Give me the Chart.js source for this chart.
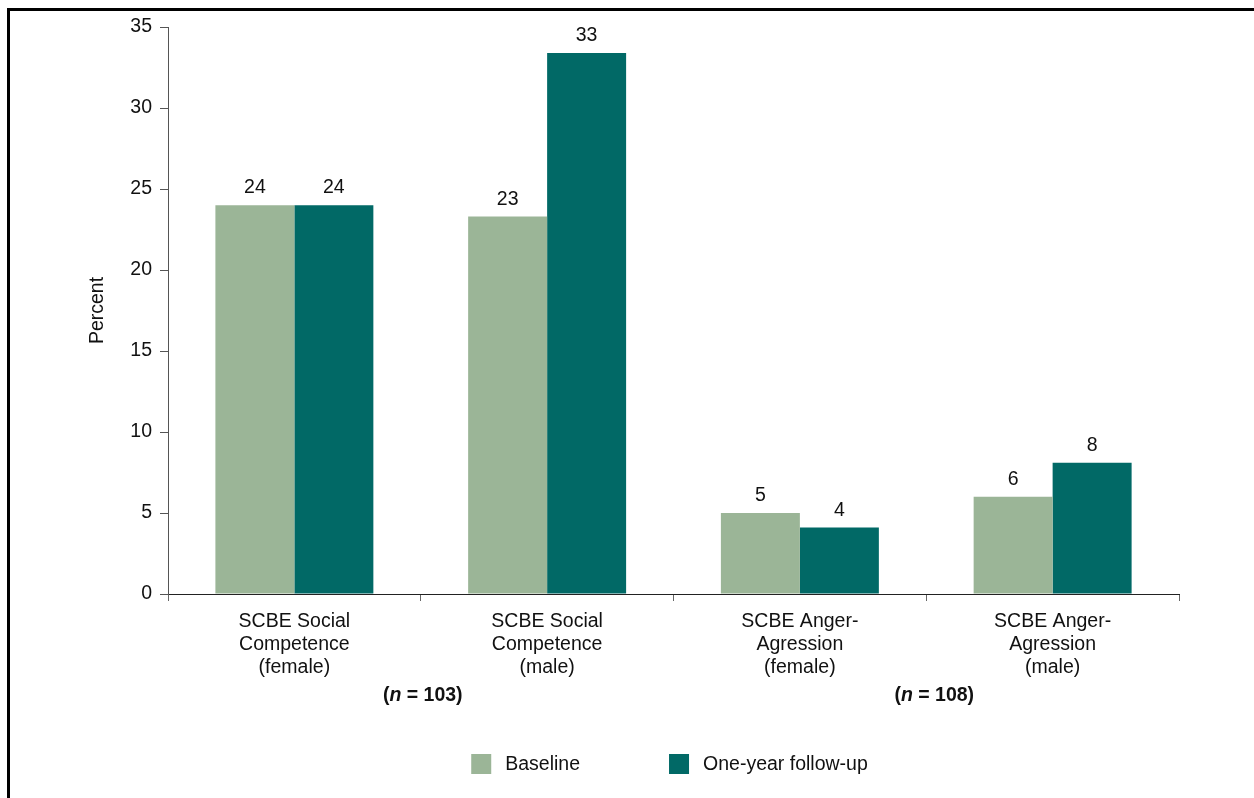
<!DOCTYPE html>
<html>
<head>
<meta charset="utf-8">
<script src="https://cdn.jsdelivr.net/npm/chart.js@4.4.1/dist/chart.umd.min.js"></script>
<style>
  html, body { margin: 0; padding: 0; background: #ffffff; }
  #wrap { width: 1254px; height: 798px; position: relative; }
</style>
</head>
<body>
<div id="wrap"><canvas id="chart"></canvas></div>
<script>
// Categories (multi-line axis labels)
const categories = [
  ['SCBE Social', 'Competence', '(female)'],
  ['SCBE Social', 'Competence', '(male)'],
  ['SCBE Anger-', 'Agression', '(female)'],
  ['SCBE Anger-', 'Agression', '(male)']
];
const seriesNames = ['Baseline', 'One-year follow-up'];
const baselineValues = [24.0, 23.3, 5.0, 6.0];
const followUpValues = [24.0, 33.4, 4.1, 8.1];
const yTickValues = [0, 5, 10, 15, 20, 25, 30, 35];
// Sample sizes, each covering a pair of categories
const sampleSizes = ['103', '108'];
const sampleGroups = [[0, 1], [2, 3]];
const axisTitle = 'Percent';

const FONT = '"Liberation Sans", Arial, Helvetica, sans-serif';
const FS = 19.5;
const colors = ['#9bb597', '#016966'];

// Outer frame (top and left rules)
const framePlugin = {
  id: 'frame',
  afterDraw(chart) {
    const ctx = chart.ctx;
    ctx.save();
    ctx.fillStyle = '#000';
    ctx.fillRect(7, 8, chart.width - 7, 3);
    ctx.fillRect(7, 8, 3, chart.height - 8);
    ctx.restore();
  }
};

// Rounded value above each bar
const valueLabelPlugin = {
  id: 'valueLabels',
  afterDatasetsDraw(chart) {
    const ctx = chart.ctx;
    ctx.save();
    ctx.font = `${FS}px ${FONT}`;
    ctx.fillStyle = '#111';
    ctx.textAlign = 'center';
    ctx.textBaseline = 'alphabetic';
    chart.data.datasets.forEach((ds, di) => {
      chart.getDatasetMeta(di).data.forEach((bar, i) => {
        ctx.fillText(String(Math.round(ds.data[i])), bar.x, bar.y - 12);
      });
    });
    ctx.restore();
  }
};

// "(n = ...)" notes under each pair of categories
const sampleSizePlugin = {
  id: 'sampleSizes',
  afterDraw(chart) {
    const ctx = chart.ctx;
    const x = chart.scales.x;
    const y = 701;
    ctx.save();
    ctx.fillStyle = '#111';
    ctx.textBaseline = 'alphabetic';
    ctx.textAlign = 'left';
    sampleSizes.forEach((n, gi) => {
      const [a, b] = sampleGroups[gi];
      const cx = (x.getPixelForValue(a) + x.getPixelForValue(b)) / 2 + (gi === 1 ? 8 : 2);
      const parts = [
        { t: '(', f: `bold ${FS}px ${FONT}` },
        { t: 'n', f: `italic bold ${FS}px ${FONT}` },
        { t: ' = ' + n + ')', f: `bold ${FS}px ${FONT}` }
      ];
      let w = 0;
      parts.forEach(p => { ctx.font = p.f; p.w = ctx.measureText(p.t).width; w += p.w; });
      let px = cx - w / 2;
      parts.forEach(p => { ctx.font = p.f; ctx.fillText(p.t, px, y); px += p.w; });
    });
    ctx.restore();
  }
};

// Legend row beneath the chart
const legendPlugin = {
  id: 'customLegend',
  afterDraw(chart) {
    const ctx = chart.ctx;
    const area = chart.chartArea;
    const box = 20, gapText = 14, gapItem = 89, cy = 764;
    ctx.save();
    ctx.font = `${FS}px ${FONT}`;
    const items = chart.data.datasets.map(ds => ({
      label: ds.label, color: ds.backgroundColor, w: ctx.measureText(ds.label).width
    }));
    const total = items.reduce((s, it) => s + box + gapText + it.w, 0) + gapItem * (items.length - 1);
    let x = (area.left + area.right) / 2 - 4 - total / 2;
    ctx.textBaseline = 'middle';
    ctx.textAlign = 'left';
    items.forEach(it => {
      ctx.fillStyle = it.color;
      ctx.fillRect(x, cy - box / 2, box, box);
      ctx.fillStyle = '#111';
      ctx.fillText(it.label, x + box + gapText, cy + 1);
      x += box + gapText + it.w + gapItem;
    });
    ctx.restore();
  }
};

new Chart(document.getElementById('chart'), {
  type: 'bar',
  data: {
    labels: categories,
    datasets: [
      { label: seriesNames[0], data: baselineValues, backgroundColor: colors[0] },
      { label: seriesNames[1], data: followUpValues, backgroundColor: colors[1] }
    ]
  },
  options: {
    responsive: true,
    maintainAspectRatio: false,
    animation: false,
    datasets: { bar: { categoryPercentage: 0.625, barPercentage: 1.0, borderWidth: 0 } },
    layout: { padding: { left: 0, right: 75, top: 27, bottom: 80 } },
    plugins: {
      legend: { display: false },
      tooltip: { enabled: false }
    },
    scales: {
      x: {
        offset: true,
        grid: { display: true, drawOnChartArea: false, drawTicks: true, tickLength: 7, color: '#666', offset: true },
        border: { display: true, color: '#222', width: 1 },
        ticks: {
          color: '#111',
          padding: 9,
          maxRotation: 0,
          autoSkip: false,
          font: { family: FONT, size: FS, lineHeight: 23 / FS }
        },
        afterFit(axis) { axis.height = 124; }
      },
      y: {
        min: 0,
        max: 35,
        afterBuildTicks(axis) { axis.ticks = yTickValues.map(v => ({ value: v })); },
        grid: { display: true, drawOnChartArea: false, drawTicks: true, tickLength: 8, color: '#555' },
        border: { display: true, color: '#555', width: 1 },
        ticks: {
          color: '#111',
          padding: 8,
          font: { family: FONT, size: FS }
        },
        title: {
          display: true,
          text: axisTitle,
          color: '#111',
          padding: { top: 86, bottom: 0 },
          font: { family: FONT, size: FS }
        },
        afterFit(axis) { axis.width = 168; }
      }
    }
  },
  plugins: [framePlugin, valueLabelPlugin, sampleSizePlugin, legendPlugin]
});
</script>
</body>
</html>
